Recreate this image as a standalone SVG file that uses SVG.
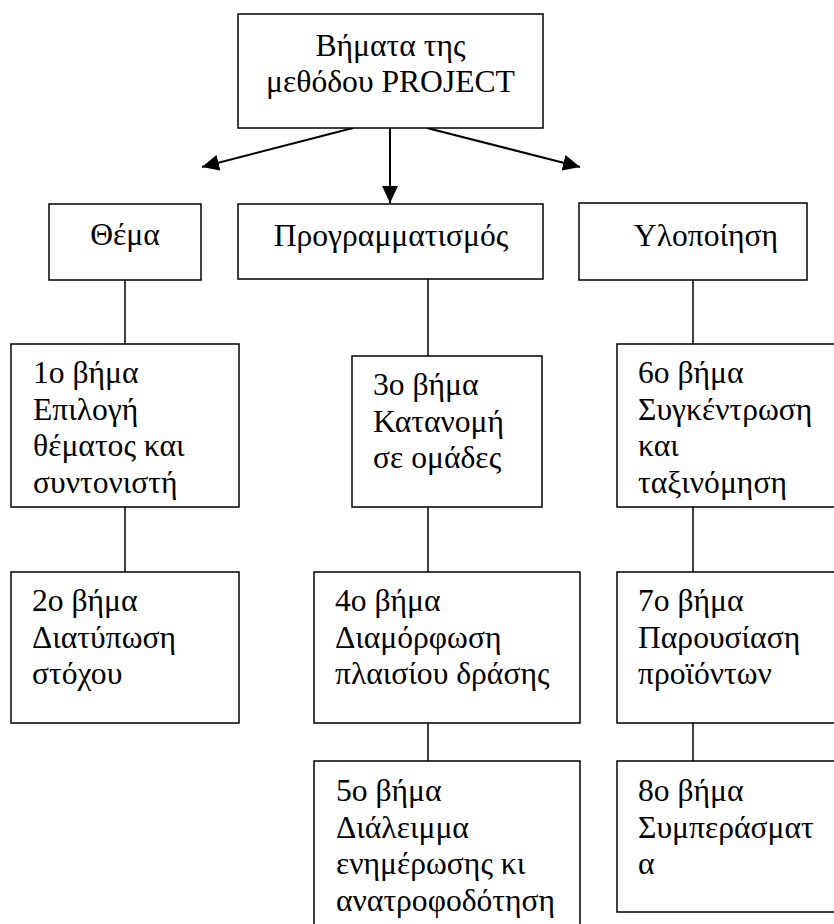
<svg xmlns="http://www.w3.org/2000/svg" width="834" height="924" viewBox="0 0 834 924">
<style>
  .box { fill: #ffffff; stroke: #000000; stroke-width: 1.5; }
  .link { stroke: #000000; stroke-width: 1.5; fill: none; }
  .arrow { stroke: #000000; stroke-width: 2; fill: none; marker-end: url(#ah); }
  text { font-family: "Liberation Serif", "Times New Roman", serif; font-size: 31.6px; fill: #000000; }
  .c { text-anchor: middle; }
</style>
<defs>
  <marker id="ah" markerUnits="userSpaceOnUse" markerWidth="18" markerHeight="16" refX="17" refY="8" orient="auto">
    <path d="M0,0 L17,8 L0,16 z" fill="#000000"/>
  </marker>
</defs>
<rect width="834" height="924" fill="#ffffff"/>

<g id="connectors">
  <line class="arrow" x1="353" y1="128" x2="202" y2="167"/>
  <line class="arrow" x1="390" y1="128" x2="390" y2="203"/>
  <line class="arrow" x1="427" y1="128" x2="580" y2="167"/>
  <line class="link" x1="125" y1="280" x2="125" y2="344"/>
  <line class="link" x1="125" y1="507" x2="125" y2="572"/>
  <line class="link" x1="428" y1="279" x2="428" y2="356"/>
  <line class="link" x1="428" y1="507" x2="428" y2="572"/>
  <line class="link" x1="428" y1="723" x2="428" y2="761"/>
  <line class="link" x1="693" y1="280" x2="693" y2="344"/>
  <line class="link" x1="693" y1="507" x2="693" y2="572"/>
  <line class="link" x1="693" y1="723" x2="693" y2="761"/>
</g>

<g id="root">
  <rect class="box" x="238" y="14" width="305" height="114"/>
  <text class="c"><tspan x="390.5" y="56">Βήματα της</tspan><tspan x="390.5" y="92">μεθόδου PROJECT</tspan></text>
</g>
<g id="thema">
  <rect class="box" x="49" y="204" width="152" height="76"/>
  <text class="c" x="125" y="245">Θέμα</text>
</g>
<g id="programmatismos">
  <rect class="box" x="238" y="204" width="305" height="75"/>
  <text class="c" x="391" y="246">Προγραμματισμός</text>
</g>
<g id="ylopoiisi">
  <rect class="box" x="579" y="203" width="228" height="77"/>
  <text class="c" x="706" y="246">Υλοποίηση</text>
</g>

<g id="step1">
  <rect class="box" x="11" y="344" width="228" height="163"/>
  <text><tspan x="33" y="383">1ο βήμα</tspan><tspan x="33" y="419.5">Επιλογή</tspan><tspan x="33" y="456">θέματος και</tspan><tspan x="33" y="492.5">συντονιστή</tspan></text>
</g>
<g id="step2">
  <rect class="box" x="11" y="572" width="228" height="151"/>
  <text><tspan x="32" y="611">2ο βήμα</tspan><tspan x="32" y="647.5">Διατύπωση</tspan><tspan x="32" y="684">στόχου</tspan></text>
</g>
<g id="step3">
  <rect class="box" x="352" y="356" width="190" height="151"/>
  <text><tspan x="373" y="395">3ο βήμα</tspan><tspan x="373" y="431.5">Κατανομή</tspan><tspan x="373" y="468">σε ομάδες</tspan></text>
</g>
<g id="step4">
  <rect class="box" x="314" y="572" width="266" height="151"/>
  <text><tspan x="335" y="611">4ο βήμα</tspan><tspan x="335" y="647.5">Διαμόρφωση</tspan><tspan x="335" y="684">πλαισίου δράσης</tspan></text>
</g>
<g id="step5">
  <rect class="box" x="314" y="761" width="266" height="180"/>
  <text><tspan x="336" y="801">5ο βήμα</tspan><tspan x="336" y="837.5">Διάλειμμα</tspan><tspan x="336" y="874">ενημέρωσης κι</tspan><tspan x="336" y="910.5">ανατροφοδότηση</tspan></text>
</g>
<g id="step6">
  <rect class="box" x="617" y="344" width="230" height="163"/>
  <text><tspan x="638" y="383">6ο βήμα</tspan><tspan x="638" y="419.5">Συγκέντρωση</tspan><tspan x="638" y="456">και</tspan><tspan x="638" y="492.5">ταξινόμηση</tspan></text>
</g>
<g id="step7">
  <rect class="box" x="617" y="572" width="230" height="151"/>
  <text><tspan x="638" y="611">7ο βήμα</tspan><tspan x="638" y="647.5">Παρουσίαση</tspan><tspan x="638" y="684">προϊόντων</tspan></text>
</g>
<g id="step8">
  <rect class="box" x="617" y="761" width="230" height="151"/>
  <text><tspan x="638" y="801">8ο βήμα</tspan><tspan x="638" y="837.5">Συμπεράσματ</tspan><tspan x="638" y="874">α</tspan></text>
</g>
</svg>
